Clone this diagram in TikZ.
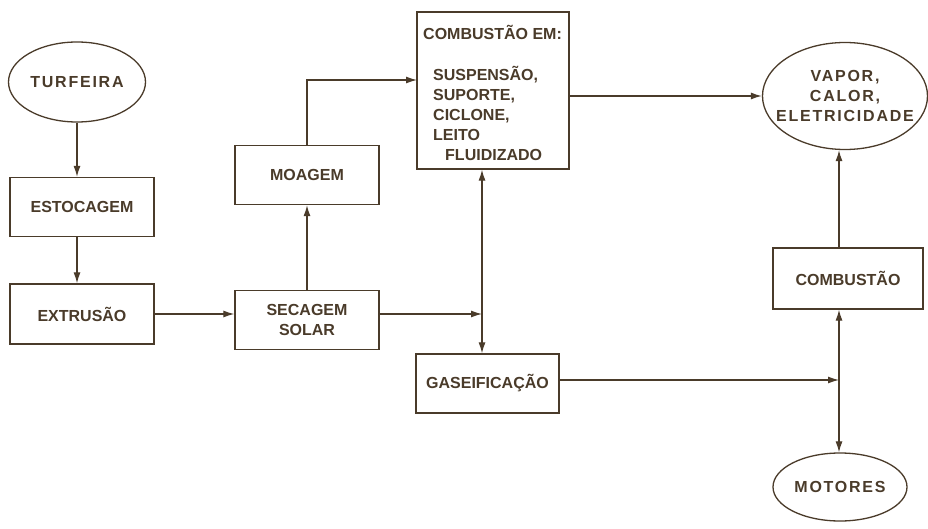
\documentclass[tikz,border=0pt]{standalone}
\usepackage{fontspec}
\setmainfont{Liberation Sans}
\newfontfamily\spacedfont[LetterSpace=11]{Liberation Sans}
\usetikzlibrary{arrows.meta,shapes.geometric}
\definecolor{ink}{HTML}{4A3B2A}
\begin{document}
\begin{tikzpicture}[x=1pt,y=-1pt,
  every node/.style={text=ink, font=\bfseries\fontsize{16}{20}\selectfont},
  stepbox/.style={draw=ink, line width=1.3pt, rectangle, inner sep=0pt, align=center},
  endpoint/.style={draw=ink, line width=1.3pt, ellipse, inner xsep=-25pt, inner ysep=0pt, align=center,
    font=\spacedfont\bfseries\fontsize{16}{20}\selectfont},
  arr/.style={draw=ink, line width=1.2pt, -{Latex[length=11pt,width=7pt]}}]
\fill[white] (0,0) rectangle (928,529);
\useasboundingbox (0,0) rectangle (928,529);

\node[endpoint, minimum width=137pt, minimum height=80pt] (turf) at (77,82) {TURFEIRA};
\node[stepbox, minimum width=144pt, minimum height=59pt] (estoc) at (82,207) {ESTOCAGEM};
\node[stepbox, minimum width=144pt, minimum height=60pt] (extr) at (82,314) {EXTRUSÃO};
\node[stepbox, minimum width=144pt, minimum height=59pt] (moag) at (307,175) {MOAGEM};
\node[stepbox, minimum width=144pt, minimum height=59pt] (secag) at (307,320) {SECAGEM\\SOLAR};
\node[stepbox, minimum width=152pt, minimum height=157pt] (comb1) at (493,90.5) {};
\node[anchor=north west, inner sep=0pt] (combtitle) at (423,25) {COMBUSTÃO EM:};
\node[anchor=north west, inner sep=0pt, align=left] (comblist) at (433,66) {SUSPENSÃO,\\SUPORTE,\\CICLONE,\\LEITO\\\hspace*{12pt}FLUIDIZADO};
\node[stepbox, minimum width=143pt, minimum height=59pt] (gaseif) at (487.5,383.5) {GASEIFICAÇÃO};
\node[endpoint, minimum width=165pt, minimum height=107pt] (vapor) at (845,96) {VAPOR,\\CALOR,\\ELETRICIDADE};
\node[stepbox, minimum width=150pt, minimum height=61pt] (comb2) at (848,278.5) {COMBUSTÃO};
\node[endpoint, minimum width=134pt, minimum height=68pt] (motores) at (840,487) {MOTORES};

\coordinate (j1) at (417,80);
\coordinate (jA) at (482,314);
\coordinate (jB) at (839,380);

\draw[arr] (turf.south) -- (turf.south |- estoc.north);
\draw[arr] (turf.south |- estoc.south) -- (turf.south |- extr.north);
\draw[arr] (extr.east |- jA) -- (secag.west |- jA);
\draw[arr] (secag.north) -- (moag.south);
\draw[arr] (moag.north) |- (j1);
\draw[arr] (comb1.east |- vapor.west) -- (vapor.west);
\draw[arr] (secag.east |- jA) -- (jA);
\draw[arr] (jA) -- (jA |- comb1.south);
\draw[arr] (jA) -- (jA |- gaseif.north);
\draw[arr] (gaseif.east |- jB) -- (jB);
\draw[arr] (jB) -- (jB |- comb2.south);
\draw[arr] (jB) -- (jB |- motores.north);
\draw[arr] (jB |- comb2.north) -- (jB |- vapor.south);
\end{tikzpicture}
\end{document}
